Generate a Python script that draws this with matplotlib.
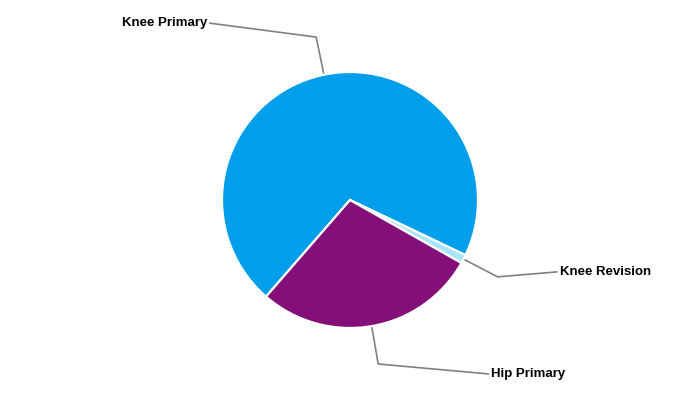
import numpy as np
import matplotlib
matplotlib.use("Agg")
import matplotlib.pyplot as plt

categories = ["Knee Primary", "Knee Revision", "Hip Primary"]
values = [70.7, 1.1, 28.2]
colors = ["#009EEB", "#A8E4FA", "#850F78"]

W, H, R = 700, 400, 128.0  # pixels; pie radius in px
fig = plt.figure(figsize=(7, 4), dpi=100)
ax = fig.add_axes([0, 0, 1, 1])
ax.set_xlim(-W / 2 / R, W / 2 / R)
ax.set_ylim(-H / 2 / R, H / 2 / R)
ax.set_aspect("equal")
ax.axis("off")

start = 229.0
wedges, _ = ax.pie(values, colors=colors, startangle=start, counterclock=False,
                   radius=1.0, center=(0, 0),
                   wedgeprops=dict(edgecolor="white", linewidth=1.6))
ax.set_xlim(-W / 2 / R, W / 2 / R)
ax.set_ylim(-H / 2 / R, H / 2 / R)

# label anchor positions in pixel offsets from elbow (layout)
label_offsets = [(-107, -14, "right"), (60, -5, "left"), (111, 10, "left")]
for w, name, (ox, oy, ha) in zip(wedges, categories, label_offsets):
    mid = np.deg2rad((w.theta1 + w.theta2) / 2)
    p0 = np.array([np.cos(mid), np.sin(mid)]) * 1.0
    p1 = np.array([np.cos(mid), np.sin(mid)]) * 1.3
    p2 = p1 + np.array([ox, -oy]) / R
    ax.plot([p0[0], p1[0], p2[0]], [p0[1], p1[1], p2[1]], color="#808080",
            lw=1.2, solid_capstyle="butt", zorder=0)
    tx = p2[0] + (-2 / R if ha == "right" else 2 / R)
    ax.text(tx, p2[1], name, ha=ha, va="center", fontsize=9.5,
            fontweight="bold", family="Liberation Sans", color="black")

fig.savefig("out.png", dpi=100, facecolor="white")
